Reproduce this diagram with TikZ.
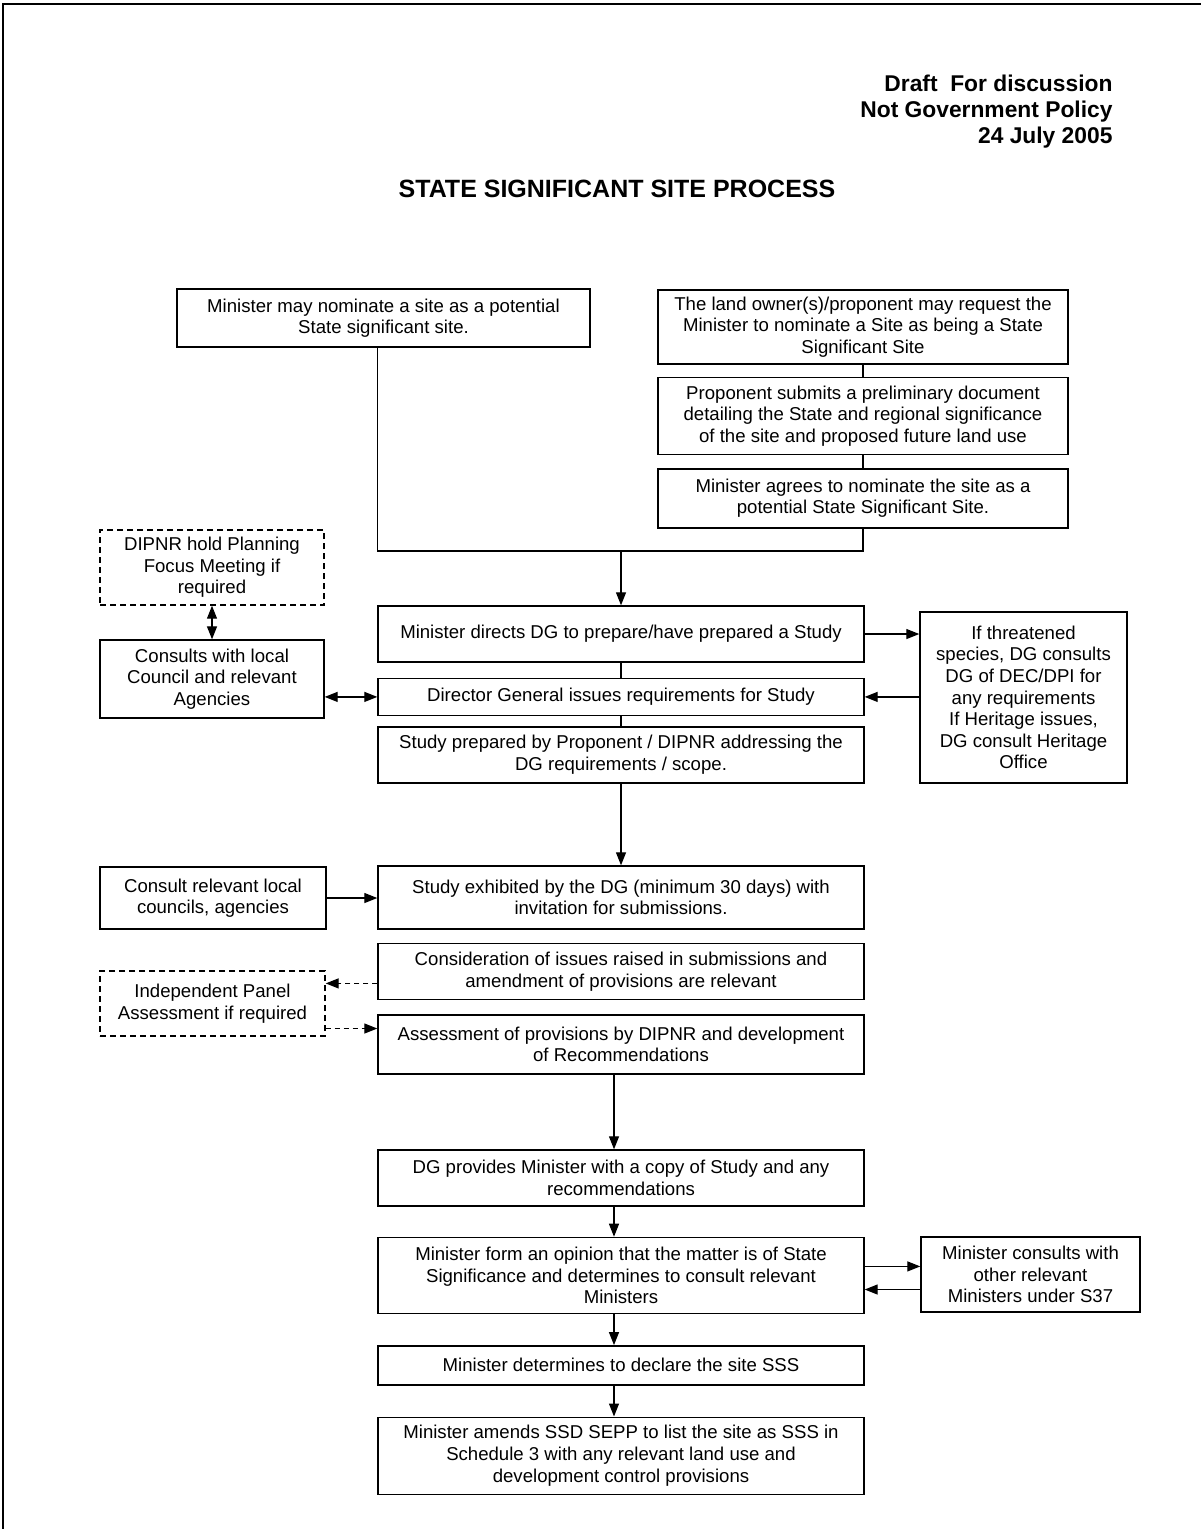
\documentclass[tikz,border=0pt]{standalone}
\usepackage{fontspec}
\setmainfont{Liberation Sans}
\usetikzlibrary{arrows.meta, positioning}

\begin{document}
\begin{tikzpicture}[
    x=1pt, y=-1pt,
    % Styles
    stepbox/.style={rectangle, draw, line width=1.4pt, align=center, inner sep=0pt, font=\fontsize{18.6}{21.6}\selectfont},
    optbox/.style={stepbox, dash pattern=on 6pt off 4pt},
    arrow/.style={-{Triangle[length=13pt, width=10pt]}, line width=1.3pt},
    dblarrow/.style={{Triangle[length=13pt, width=10pt]}-{Triangle[length=13pt, width=10pt]}, line width=1.3pt},
    optarrow/.style={arrow, dash pattern=on 5pt off 4pt},
    link/.style={line width=1.3pt}
]
\useasboundingbox (0,0) rectangle (1201,1529);
\draw[line width=2.5pt] (3,1529) -- (3,4) -- (1201,4);

% --- Header ---
\node[anchor=east, align=right, font=\fontsize{22.8}{26}\selectfont\bfseries] (draft) at (1116,112) {Draft\ \ For discussion\\Not Government Policy\\24 July 2005};
\node[font=\fontsize{25}{28}\selectfont\bfseries] (title) at (617,189) {STATE SIGNIFICANT SITE PROCESS};

% --- Nomination ---
\node[stepbox, minimum width=413pt, minimum height=58pt] (nominate) at (383.5,318) {Minister may nominate a site as a potential\\State significant site.};
\node[stepbox, minimum width=410pt, minimum height=74pt] (landowner) at (863,327) {The land owner(s)/proponent may request the\\Minister to nominate a Site as being a State\\Significant Site};
\node[stepbox, minimum width=410pt, minimum height=77pt, below = 12pt of landowner] (prelim) {Proponent submits a preliminary document\\detailing the State and regional significance\\of the site and proposed future land use};
\node[stepbox, minimum width=410pt, minimum height=59pt, below = 13pt of prelim] (agrees) {Minister agrees to nominate the site as a\\potential State Significant Site.};

\draw[link] (landowner) -- (prelim);
\draw[link] (prelim) -- (agrees);

% --- Study ---
\node[stepbox, minimum width=486pt, minimum height=56pt] (directs) at (621,634) {Minister directs DG to prepare/have prepared a Study};
\node[stepbox, minimum width=486pt, minimum height=37pt, below = 15pt of directs] (issues) {Director General issues requirements for Study};
\node[stepbox, minimum width=486pt, minimum height=56pt, below = 10pt of issues] (prepared) {Study prepared by Proponent / DIPNR addressing the\\DG requirements / scope.};

\coordinate (merge) at (621,551);
\draw[link] (nominate.south -| directs.west) |- (merge) -| (agrees.south);
\draw[arrow] (merge) -- (directs);
\draw[link] (directs) -- (issues);
\draw[link] (issues) -- (prepared);

\node[optbox, minimum width=224pt, minimum height=75pt] (focus) at (212,567.5) {DIPNR hold Planning\\Focus Meeting if\\required};
\node[stepbox, minimum width=224pt, minimum height=78pt] (consults) at (212,679) {Consults with local\\Council and relevant\\Agencies};
\node[stepbox, minimum width=207pt, minimum height=171pt] (threat) at (1023.5,697.5) {If threatened\\species, DG consults\\DG of DEC/DPI for\\any requirements\\If Heritage issues,\\DG consult Heritage\\Office};

\draw[dblarrow] (focus) -- (consults);
\draw[dblarrow] (consults.east |- issues.west) -- (issues.west);
\draw[arrow] (directs.east) -- (directs.east -| threat.west);
\draw[arrow] (threat.west |- issues.east) -- (issues.east);

% --- Exhibition ---
\node[stepbox, minimum width=486pt, minimum height=63pt] (exhibited) at (621,897.5) {Study exhibited by the DG (minimum 30 days) with\\invitation for submissions.};
\node[stepbox, minimum width=486pt, minimum height=56pt, below = 13pt of exhibited] (consider) {Consideration of issues raised in submissions and\\amendment of provisions are relevant};
\node[stepbox, minimum width=486pt, minimum height=59pt, below = 14pt of consider] (assess) {Assessment of provisions by DIPNR and development\\of Recommendations};

\draw[arrow] (prepared) -- (exhibited);

\node[stepbox, minimum width=226pt, minimum height=62pt] (localcouncils) at (213,898) {Consult relevant local\\councils, agencies};
\node[optbox, minimum width=225pt, minimum height=65pt] (panel) at (212.5,1003.5) {Independent Panel\\Assessment if required};

\draw[arrow] (localcouncils.east) -- (localcouncils.east -| exhibited.west);
\draw[optarrow] ([yshift=-12pt]consider.west) -- ([yshift=-12pt]consider.west -| panel.east);
\draw[optarrow] ([yshift=-25pt]panel.east) -- ([yshift=-25pt]panel.east -| assess.west);

% --- Declaration ---
\node[stepbox, minimum width=486pt, minimum height=56pt] (provides) at (621,1178) {DG provides Minister with a copy of Study and any\\recommendations};
\node[stepbox, minimum width=486pt, minimum height=76pt, below = 30pt of provides] (opinion) {Minister form an opinion that the matter is of State\\Significance and determines to consult relevant\\Ministers};
\node[stepbox, minimum width=486pt, minimum height=39pt, below = 31pt of opinion] (declare) {Minister determines to declare the site SSS};
\node[stepbox, minimum width=486pt, minimum height=77pt, below = 31pt of declare] (amends) {Minister amends SSD SEPP to list the site as SSS in\\Schedule 3 with any relevant land use and\\development control provisions};
\node[stepbox, minimum width=219pt, minimum height=75pt] (ministers) at (1030.5,1274.5) {Minister consults with\\other relevant\\Ministers under S37};

\draw[arrow] ([xshift=-7pt]assess.south) -- ([xshift=-7pt]provides.north);
\draw[arrow] ([xshift=-7pt]provides.south) -- ([xshift=-7pt]opinion.north);
\draw[arrow] ([xshift=-7pt]opinion.south) -- ([xshift=-7pt]declare.north);
\draw[arrow] ([xshift=-7pt]declare.south) -- ([xshift=-7pt]amends.north);
\draw[arrow] ([yshift=9pt]opinion.east) -- ([yshift=9pt]opinion.east -| ministers.west);
\draw[arrow] ([yshift=-15pt]ministers.west) -- ([yshift=-15pt]ministers.west -| opinion.east);

\end{tikzpicture}
\end{document}
